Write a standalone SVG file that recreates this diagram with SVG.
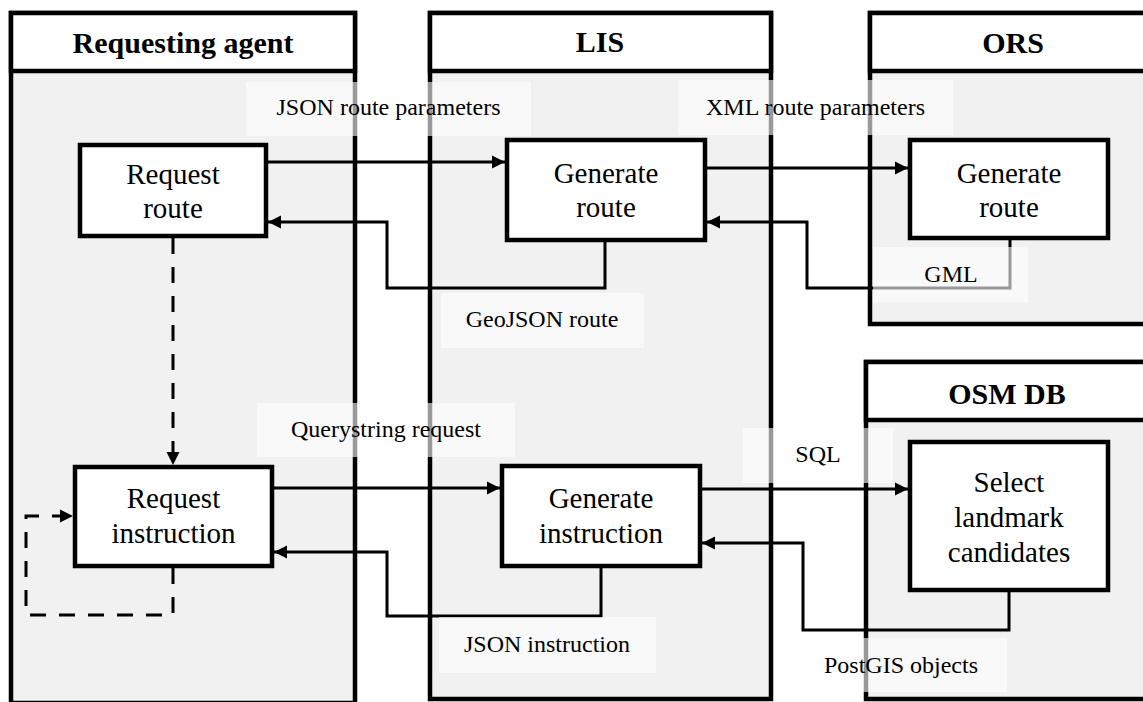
<svg xmlns="http://www.w3.org/2000/svg" width="1143" height="702" viewBox="0 0 1143 702">
<style>
.lane{fill:#f1f1f1;stroke:#000;stroke-width:4.5}
.head{fill:#fff;stroke:#000;stroke-width:4.5}
.ht{font-family:"Liberation Serif",serif;font-weight:bold;font-size:30px;text-anchor:middle;fill:#000}
.box{fill:#fff;stroke:#000;stroke-width:4.5}
.nt{font-family:"Liberation Serif",serif;font-size:29px;text-anchor:middle;fill:#000}
.c{fill:none;stroke:#000;stroke-width:3}
.d{fill:none;stroke:#000;stroke-width:3;stroke-dasharray:16 13}
.lb{fill:#fff;fill-opacity:0.6}
.lt{font-family:"Liberation Serif",serif;font-size:24px;text-anchor:middle;fill:#000}
</style>
<defs>
<marker id="ah" markerUnits="userSpaceOnUse" markerWidth="14" markerHeight="14" refX="13" refY="7" orient="auto">
<path d="M0,0.5 L13,7 L0,13.5 z" fill="#000"/>
</marker>
</defs>
<rect width="1143" height="702" fill="#fff"/>
<g id="lane-agent">
<rect class="lane" x="11" y="13" width="344" height="690"/>
<rect class="head" x="11" y="13" width="344" height="58"/>
<text class="ht" x="183" y="53">Requesting agent</text>
</g>
<g id="lane-lis">
<rect class="lane" x="430" y="13" width="341" height="686"/>
<rect class="head" x="430" y="13" width="341" height="58"/>
<text class="ht" x="600" y="52">LIS</text>
</g>
<g id="lane-ors">
<rect class="lane" x="870" y="13" width="290" height="311"/>
<rect class="head" x="870" y="13" width="290" height="58"/>
<text class="ht" x="1013" y="53">ORS</text>
</g>
<g id="lane-osm">
<rect class="lane" x="866" y="362" width="294" height="337"/>
<rect class="head" x="866" y="362" width="294" height="58"/>
<text class="ht" x="1007" y="404">OSM DB</text>
</g>
<g id="request-route">
<rect class="box" x="80" y="145" width="186" height="91"/>
<text class="nt" x="173" y="184">Request</text>
<text class="nt" x="173" y="218">route</text>
</g>
<g id="generate-route-lis">
<rect class="box" x="507" y="140" width="198" height="100"/>
<text class="nt" x="606" y="183">Generate</text>
<text class="nt" x="606" y="217">route</text>
</g>
<g id="generate-route-ors">
<rect class="box" x="910" y="140" width="198" height="98"/>
<text class="nt" x="1009" y="183">Generate</text>
<text class="nt" x="1009" y="217">route</text>
</g>
<g id="request-instruction">
<rect class="box" x="75" y="467" width="197" height="99"/>
<text class="nt" x="173.5" y="508">Request</text>
<text class="nt" x="173.5" y="543">instruction</text>
</g>
<g id="generate-instruction">
<rect class="box" x="502" y="466" width="198" height="100"/>
<text class="nt" x="601" y="508">Generate</text>
<text class="nt" x="601" y="543">instruction</text>
</g>
<g id="select-landmark">
<rect class="box" x="910" y="442" width="198" height="148"/>
<text class="nt" x="1009" y="492">Select</text>
<text class="nt" x="1009" y="527">landmark</text>
<text class="nt" x="1009" y="562">candidates</text>
</g>
<g id="connectors">
<path class="c" d="M268,162 H505" marker-end="url(#ah)"/>
<path class="c" d="M707,168 H908" marker-end="url(#ah)"/>
<path class="c" d="M605,242 V288 H387 V222 H268" marker-end="url(#ah)"/>
<path class="c" d="M1010,240 V288 H807 V222 H707" marker-end="url(#ah)"/>
<path class="c" d="M274,488 H500" marker-end="url(#ah)"/>
<path class="c" d="M702,489 H908" marker-end="url(#ah)"/>
<path class="c" d="M601,568 V616 H387 V552 H274" marker-end="url(#ah)"/>
<path class="c" d="M1009,592 V630 H803 V543 H702" marker-end="url(#ah)"/>
<path class="d" d="M173,238 V465" marker-end="url(#ah)"/>
<path class="d" d="M173,568 V615 H26 V516 H73" marker-end="url(#ah)"/>
</g>
<g id="labels">
<rect class="lb" x="246" y="82" width="285" height="54"/>
<text class="lt" x="388.5" y="115">JSON route parameters</text>
<rect class="lb" x="678" y="80" width="275" height="55"/>
<text class="lt" x="815.5" y="115">XML route parameters</text>
<rect class="lb" x="441" y="293" width="203" height="55"/>
<text class="lt" x="542" y="327">GeoJSON route</text>
<rect class="lb" x="873" y="247" width="155" height="55"/>
<text class="lt" x="951" y="282">GML</text>
<rect class="lb" x="257" y="403" width="258" height="54"/>
<text class="lt" x="386" y="437">Querystring request</text>
<rect class="lb" x="743" y="428" width="150" height="55"/>
<text class="lt" x="818" y="462">SQL</text>
<rect class="lb" x="439" y="617" width="217" height="56"/>
<text class="lt" x="547" y="652">JSON instruction</text>
<rect class="lb" x="797" y="638" width="210" height="54"/>
<text class="lt" x="901" y="673">PostGIS objects</text>
</g>
</svg>
